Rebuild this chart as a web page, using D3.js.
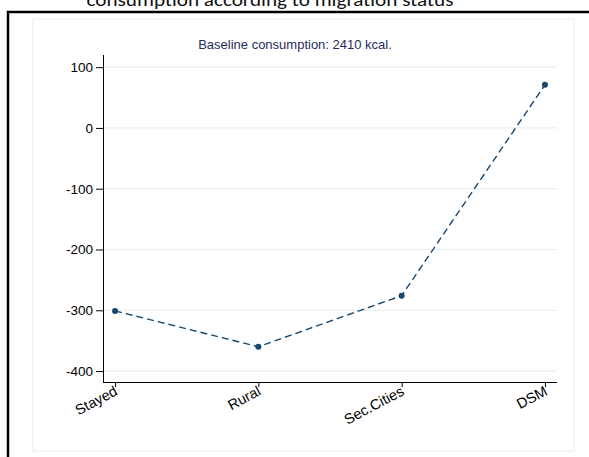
<!DOCTYPE html>
<html>
<head>
<meta charset="utf-8">
<script src="https://cdn.jsdelivr.net/npm/d3@7"></script>
<style>
  html, body { margin: 0; padding: 0; background: #fff; }
  svg { display: block; }
</style>
</head>
<body>
<div id="chart"></div>
<script>
// data
const groups = ["Stayed", "Rural", "Sec.Cities", "DSM"];
const diffs = [-301, -360, -276, 71];
const yTicks = [100, 0, -100, -200, -300, -400];
const titleText = "consumption according to migration status";
const subtitleText = "Baseline consumption: 2410 kcal.";

const width = 589, height = 457;
const navy = "#1a476f";
const axisFont = "'Liberation Sans', Arial, sans-serif";

var svg = d3.select("#chart").append("svg")
	.attr("width", width)
	.attr("height", height);

// outer frame (right/bottom run off the page)
svg.append("rect")
	.attr("x", 8).attr("y", 12)
	.attr("width", 700).attr("height", 600)
	.attr("fill", "#fff")
	.attr("stroke", "#000")
	.attr("stroke-width", 2.5);

// graph region
svg.append("rect")
	.attr("x", 33).attr("y", 19)
	.attr("width", 541).attr("height", 432)
	.attr("fill", "#fff")
	.attr("stroke", "#e6edf1")
	.attr("stroke-width", 1);

// title, clipped at the top of the page like the original
svg.append("text")
	.attr("x", 270).attr("y", 6)
	.attr("text-anchor", "middle")
	.attr("font-family", "Carlito, 'Open Sans', sans-serif")
	.attr("font-size", 18)
	.attr("textLength", 367)
	.attr("lengthAdjust", "spacingAndGlyphs")
	.attr("fill", "#111")
	.text(titleText);

svg.append("text")
	.attr("x", 295).attr("y", 49)
	.attr("text-anchor", "middle")
	.attr("font-family", axisFont)
	.attr("font-size", 13)
	.attr("fill", "#1f2d5a")
	.text(subtitleText);

var x = d3.scalePoint()
	.domain(groups)
	.range([103, 557])
	.padding(0.084);

var y = d3.scaleLinear()
	.domain([-418, 120])
	.range([382, 55]);

// gridlines
svg.append("g")
	.selectAll("line")
	.data(yTicks)
	.join("line")
		.attr("x1", 103).attr("x2", 557)
		.attr("y1", d => y(d)).attr("y2", d => y(d))
		.attr("stroke", "#e8f0f2")
		.attr("stroke-width", 1.2);

// y axis
var yAxis = svg.append("g")
	.attr("transform", "translate(103,0)")
	.call(d3.axisLeft(y).tickValues(yTicks).tickFormat(d => String(d))
		.tickSize(7).tickPadding(3).tickSizeOuter(0));
yAxis.select(".domain").attr("d", `M0.5,${y.range()[1]}V${y.range()[0]}`);
yAxis.selectAll("text")
	.attr("font-family", axisFont)
	.attr("font-size", 13.5)
	.attr("fill", "#000");

// x axis
var xAxis = svg.append("g")
	.attr("transform", "translate(0,382)")
	.call(d3.axisBottom(x).tickSize(5).tickSizeOuter(0));
xAxis.select(".domain").attr("d", "M103,0.5H557");
xAxis.selectAll("text")
	.attr("font-family", axisFont)
	.attr("font-size", 14.5)
	.attr("fill", "#000")
	.attr("text-anchor", "end")
	.attr("x", 0).attr("y", 0)
	.attr("dy", "0.72em")
	.attr("transform", "translate(-2,3) rotate(-28)");

// dashed line + markers
var line = d3.line()
	.x((d, i) => x(groups[i]))
	.y(d => y(d));

svg.append("path")
	.datum(diffs)
	.attr("d", line)
	.attr("fill", "none")
	.attr("stroke", navy)
	.attr("stroke-width", 1.4)
	.attr("stroke-dasharray", "7,4");

svg.append("g")
	.selectAll("circle")
	.data(diffs)
	.join("circle")
		.attr("cx", (d, i) => x(groups[i]))
		.attr("cy", d => y(d))
		.attr("r", 3)
		.attr("fill", navy);
</script>
</body>
</html>
